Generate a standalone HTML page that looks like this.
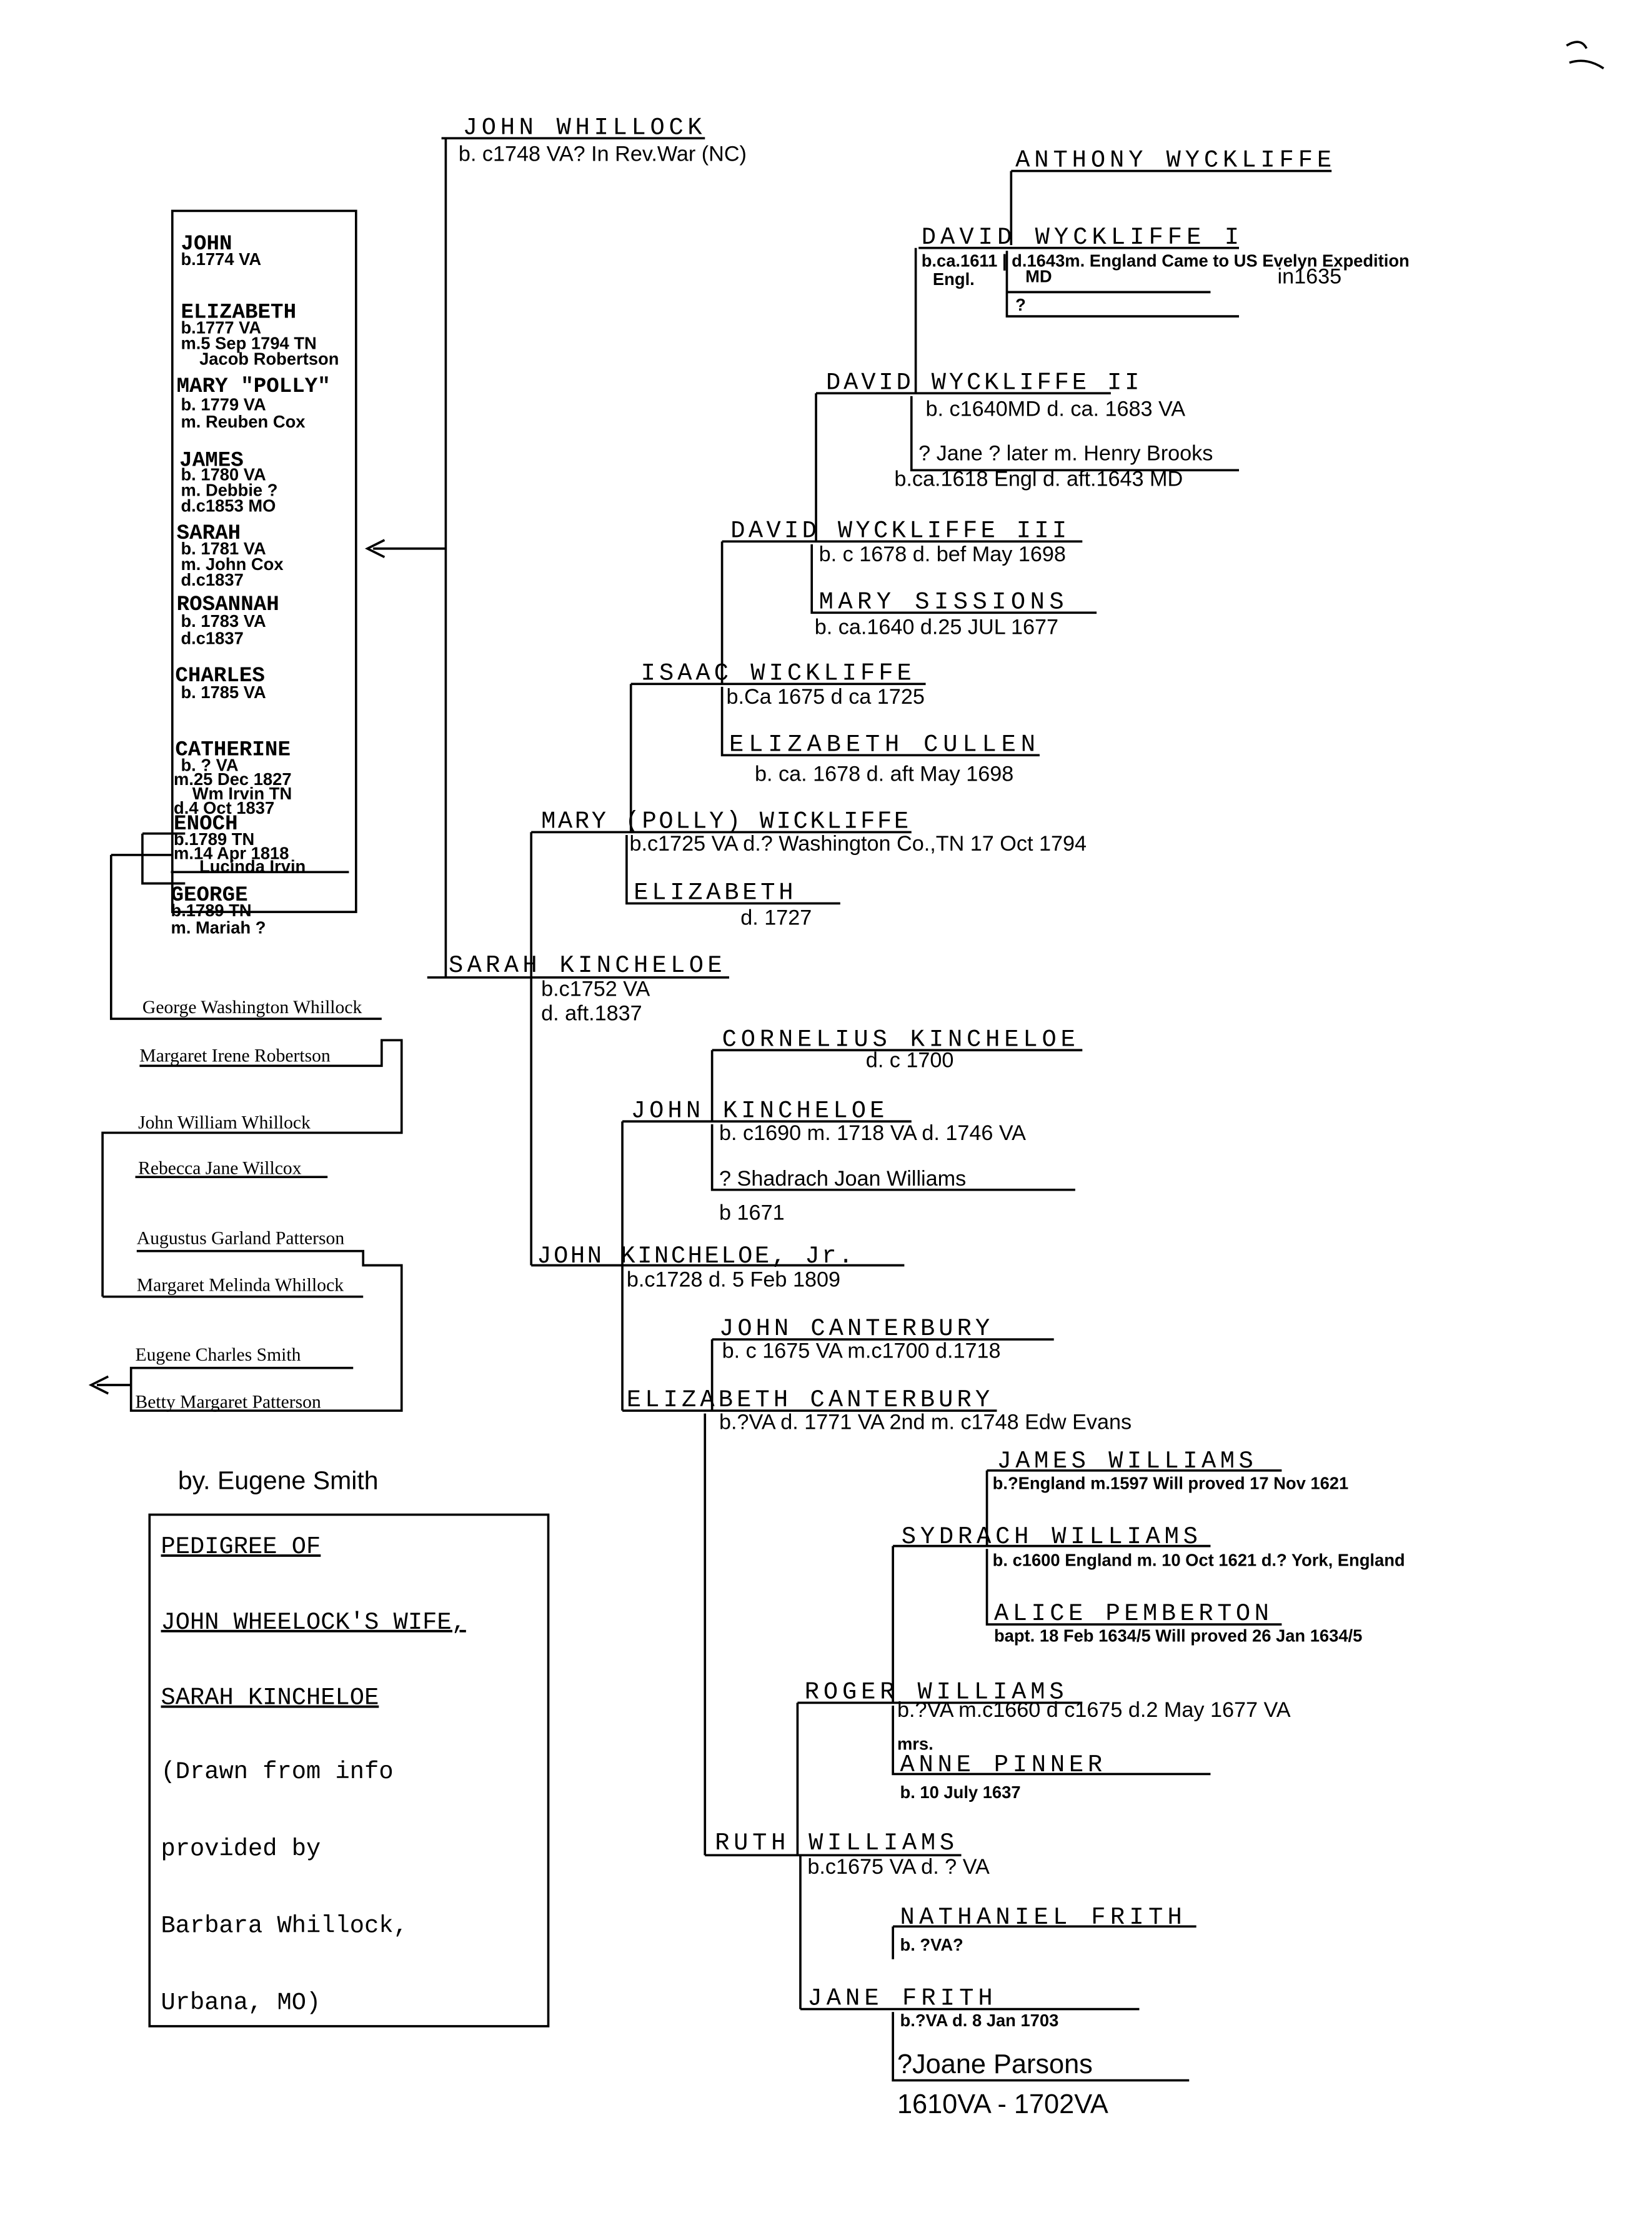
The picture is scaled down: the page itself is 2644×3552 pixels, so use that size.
<!DOCTYPE html>
<html><head><meta charset="utf-8"><style>
html,body{margin:0;padding:0;background:#fff;}
svg{display:block;}
.n{font-family:"Liberation Mono",monospace;font-size:17px;fill:#000;}
.s{font-family:"Liberation Sans",sans-serif;font-size:12px;fill:#000;font-weight:bold;}
.h{font-family:"Liberation Sans",sans-serif;font-size:15px;fill:#000;}
.c{font-family:"Liberation Mono",monospace;font-size:15px;fill:#000;font-weight:bold;}
.f{font-family:"Liberation Serif",serif;font-size:13px;fill:#000;}
.b{font-family:"Liberation Mono",monospace;font-size:17px;fill:#000;}
</style></head><body>
<svg width="2644" height="3552" viewBox="0 0 1160 1558" preserveAspectRatio="none" xmlns="http://www.w3.org/2000/svg">
<rect width="1160" height="1558" fill="#fff"/>
<g stroke="#000" stroke-width="1.6" fill="none">
<!-- John Whillock -->
<path d="M310 97H495 M313 97V686 M300 686H512"/>
<path d="M313 385H262"/>
<path d="M270 379L258 385L270 391" />
<rect x="121" y="148" width="129" height="492"/>
<!-- Wyckliffe line -->
<path d="M710 120H935 M710 120V172"/>
<path d="M645 174H870 M643 174V276 M707 176V222H870 M707 176V205H850"/>
<path d="M573 276H780 M573 276V380 M640 278V330H870"/>
<path d="M507 380H760 M507 380V480 M570 382V430H770"/>
<path d="M443 480H650 M443 480V584 M507 482V530H730"/>
<path d="M373 584H640 M373 584V888 M440 586V634H590"/>
<!-- Kincheloe -->
<path d="M500 737H760 M500 737V787"/>
<path d="M437 787H640 M437 787V990 M500 789V835H755"/>
<path d="M373 888H635"/>
<path d="M500 940H740 M500 940V990"/>
<path d="M437 990H700 M495 992V1302"/>
<path d="M693 1032H900 M693 1032V1085"/>
<path d="M627 1085H850 M627 1085V1195 M693 1087V1140H900"/>
<path d="M560 1195H760 M560 1195V1302 M627 1197V1245H850"/>
<path d="M495 1302H675 M562 1302V1410 M627 1352H840 M627 1352V1375"/>
<path d="M562 1410H800 M627 1412V1460H835"/>
<!-- left family -->
<path d="M78 600V715H268 M78 600H121 M100 585V620H130 M100 585H130"/>
<path d="M120 612H245"/>
<path d="M98 748H268V730H282V795H72V910 M95 826H230"/>
<path d="M96 878H255V888H282V990H92V960H248 M72 910H255"/>
<path d="M92 972H68 M76 966L64 972L76 978"/>
<rect x="105" y="1063" width="280" height="359"/>
<path d="M1100 32q10 -6 14 2 M1102 44q12 -4 24 4"/>
</g>
<!-- names -->
<text class="n" x="325" y="94" textLength="168">JOHN WHILLOCK</text>
<text class="h" x="322" y="113">b. c1748 VA?  In Rev.War (NC)</text>
<text class="n" x="713" y="117" textLength="222">ANTHONY WYCKLIFFE</text>
<text class="n" x="647" y="171" textLength="223">DAVID WYCKLIFFE I</text>
<text class="s" x="647" y="187">b.ca.1611 | d.1643m. England  Came to US Evelyn Expedition</text>
<text class="s" x="655" y="200">Engl.</text><text class="s" x="720" y="198">MD</text>
<text class="h" x="897" y="199">in1635</text>
<text class="s" x="713" y="218">?</text>
<text class="n" x="580" y="273" textLength="220">DAVID WYCKLIFFE II</text>
<text class="h" x="650" y="292">b. c1640MD  d. ca. 1683 VA</text>
<text class="h" x="645" y="323">? Jane ? later m. Henry Brooks</text>
<text class="h" x="628" y="341">b.ca.1618 Engl  d. aft.1643 MD</text>
<text class="n" x="513" y="377" textLength="236">DAVID WYCKLIFFE III</text>
<text class="h" x="575" y="394">b. c 1678  d. bef May 1698</text>
<text class="n" x="575" y="427" textLength="172">MARY SISSIONS</text>
<text class="h" x="572" y="445">b. ca.1640  d.25 JUL 1677</text>
<text class="n" x="450" y="477" textLength="190">ISAAC WICKLIFFE</text>
<text class="h" x="510" y="494">b.Ca 1675  d ca 1725</text>
<text class="n" x="512" y="527" textLength="215">ELIZABETH CULLEN</text>
<text class="h" x="530" y="548">b. ca. 1678  d. aft May 1698</text>
<text class="n" x="380" y="581" textLength="258">MARY (POLLY) WICKLIFFE</text>
<text class="h" x="442" y="597">b.c1725 VA d.? Washington Co.,TN 17 Oct 1794</text>
<text class="n" x="445" y="631" textLength="112">ELIZABETH</text>
<text class="h" x="520" y="649">d. 1727</text>
<text class="n" x="315" y="682" textLength="192">SARAH KINCHELOE</text>
<text class="h" x="380" y="699">b.c1752 VA</text>
<text class="h" x="380" y="716">d. aft.1837</text>
<text class="n" x="507" y="734" textLength="248">CORNELIUS KINCHELOE</text>
<text class="h" x="608" y="749">d. c 1700</text>
<text class="n" x="443" y="784" textLength="178">JOHN KINCHELOE</text>
<text class="h" x="505" y="800">b. c1690 m. 1718 VA  d. 1746 VA</text>
<text class="h" x="505" y="832">? Shadrach Joan Williams</text>
<text class="h" x="505" y="856">b 1671</text>
<text class="n" x="377" y="886" textLength="222">JOHN KINCHELOE, Jr.</text>
<text class="h" x="440" y="903">b.c1728  d. 5 Feb 1809</text>
<text class="n" x="505" y="937" textLength="190">JOHN CANTERBURY</text>
<text class="h" x="507" y="953">b. c 1675 VA m.c1700 d.1718</text>
<text class="n" x="440" y="987" textLength="255">ELIZABETH CANTERBURY</text>
<text class="h" x="505" y="1003">b.?VA  d. 1771 VA  2nd m. c1748 Edw Evans</text>
<text class="n" x="700" y="1030" textLength="180">JAMES WILLIAMS</text>
<text class="s" x="697" y="1045">b.?England m.1597 Will proved 17 Nov 1621</text>
<text class="n" x="633" y="1083" textLength="208">SYDRACH WILLIAMS</text>
<text class="s" x="697" y="1099">b. c1600 England m. 10 Oct 1621 d.? York, England</text>
<text class="n" x="698" y="1137" textLength="193">ALICE PEMBERTON</text>
<text class="s" x="698" y="1152">bapt. 18 Feb 1634/5 Will proved 26 Jan 1634/5</text>
<text class="n" x="565" y="1192" textLength="182">ROGER WILLIAMS</text>
<text class="h" x="630" y="1205">b.?VA m.c1660 d c1675 d.2 May 1677 VA</text>
<text class="s" x="630" y="1228">mrs.</text>
<text class="n" x="632" y="1243" textLength="142">ANNE PINNER</text>
<text class="s" x="632" y="1262">b. 10 July 1637</text>
<text class="n" x="502" y="1298" textLength="168">RUTH WILLIAMS</text>
<text class="h" x="567" y="1315">b.c1675 VA  d. ? VA</text>
<text class="n" x="632" y="1350" textLength="198">NATHANIEL FRITH</text>
<text class="s" x="632" y="1369">b. ?VA?</text>
<text class="n" x="567" y="1407" textLength="130">JANE FRITH</text>
<text class="s" x="632" y="1422">b.?VA  d. 8 Jan 1703</text>
<text class="h" x="630" y="1455" style="font-size:19px">?Joane Parsons</text>
<text class="h" x="630" y="1483" style="font-size:19px">1610VA - 1702VA</text>
<!-- children -->
<text class="c" x="127" y="175">JOHN</text><text class="s" x="127" y="186">b.1774 VA</text>
<text class="c" x="127" y="223">ELIZABETH</text><text class="s" x="127" y="234">b.1777 VA</text>
<text class="s" x="127" y="245">m.5 Sep 1794 TN</text><text class="s" x="140" y="256">Jacob Robertson</text>
<text class="c" x="124" y="275">MARY "POLLY"</text><text class="s" x="127" y="288">b. 1779 VA</text>
<text class="s" x="127" y="300">m. Reuben Cox</text>
<text class="c" x="126" y="327">JAMES</text><text class="s" x="127" y="337">b. 1780 VA</text>
<text class="s" x="127" y="348">m. Debbie ?</text><text class="s" x="127" y="359">d.c1853 MO</text>
<text class="c" x="124" y="378">SARAH</text><text class="s" x="127" y="389">b. 1781 VA</text>
<text class="s" x="127" y="400">m. John Cox</text><text class="s" x="127" y="411">d.c1837</text>
<text class="c" x="124" y="428">ROSANNAH</text><text class="s" x="127" y="440">b. 1783 VA</text>
<text class="s" x="127" y="452">d.c1837</text>
<text class="c" x="123" y="478">CHARLES</text><text class="s" x="127" y="490">b. 1785 VA</text>
<text class="c" x="123" y="530">CATHERINE</text><text class="s" x="127" y="541">b. ? VA</text>
<text class="s" x="122" y="551">m.25 Dec 1827</text><text class="s" x="135" y="561">Wm Irvin TN</text>
<text class="s" x="122" y="571">d.4 Oct 1837</text>
<text class="c" x="122" y="582">ENOCH</text><text class="s" x="122" y="593">b.1789 TN</text>
<text class="s" x="122" y="603">m.14 Apr 1818</text><text class="s" x="140" y="612">Lucinda Irvin</text>
<text class="c" x="120" y="632">GEORGE</text><text class="s" x="120" y="643">b.1789 TN</text>
<text class="s" x="120" y="655">m. Mariah ?</text>
<!-- left names -->
<text class="f" x="100" y="711">George Washington Whillock</text>
<text class="f" x="98" y="745">Margaret Irene Robertson</text>
<text class="f" x="97" y="792">John William Whillock</text>
<text class="f" x="97" y="824">Rebecca Jane Willcox</text>
<text class="f" x="96" y="873">Augustus Garland Patterson</text>
<text class="f" x="96" y="906">Margaret Melinda Whillock</text>
<text class="f" x="95" y="955">Eugene Charles Smith</text>
<text class="f" x="95" y="988">Betty Margaret Patterson</text>
<text class="h" x="125" y="1045" style="font-size:18px">by. Eugene Smith</text>
<text class="b" x="113" y="1090" text-decoration="underline">PEDIGREE OF</text>
<text class="b" x="113" y="1143" text-decoration="underline">JOHN WHEELOCK'S WIFE,</text>
<text class="b" x="113" y="1196" text-decoration="underline">SARAH KINCHELOE</text>
<text class="b" x="113" y="1248">(Drawn from info</text>
<text class="b" x="113" y="1302">provided by</text>
<text class="b" x="113" y="1356">Barbara Whillock,</text>
<text class="b" x="113" y="1410">Urbana, MO)</text>
</svg>
</body></html>
